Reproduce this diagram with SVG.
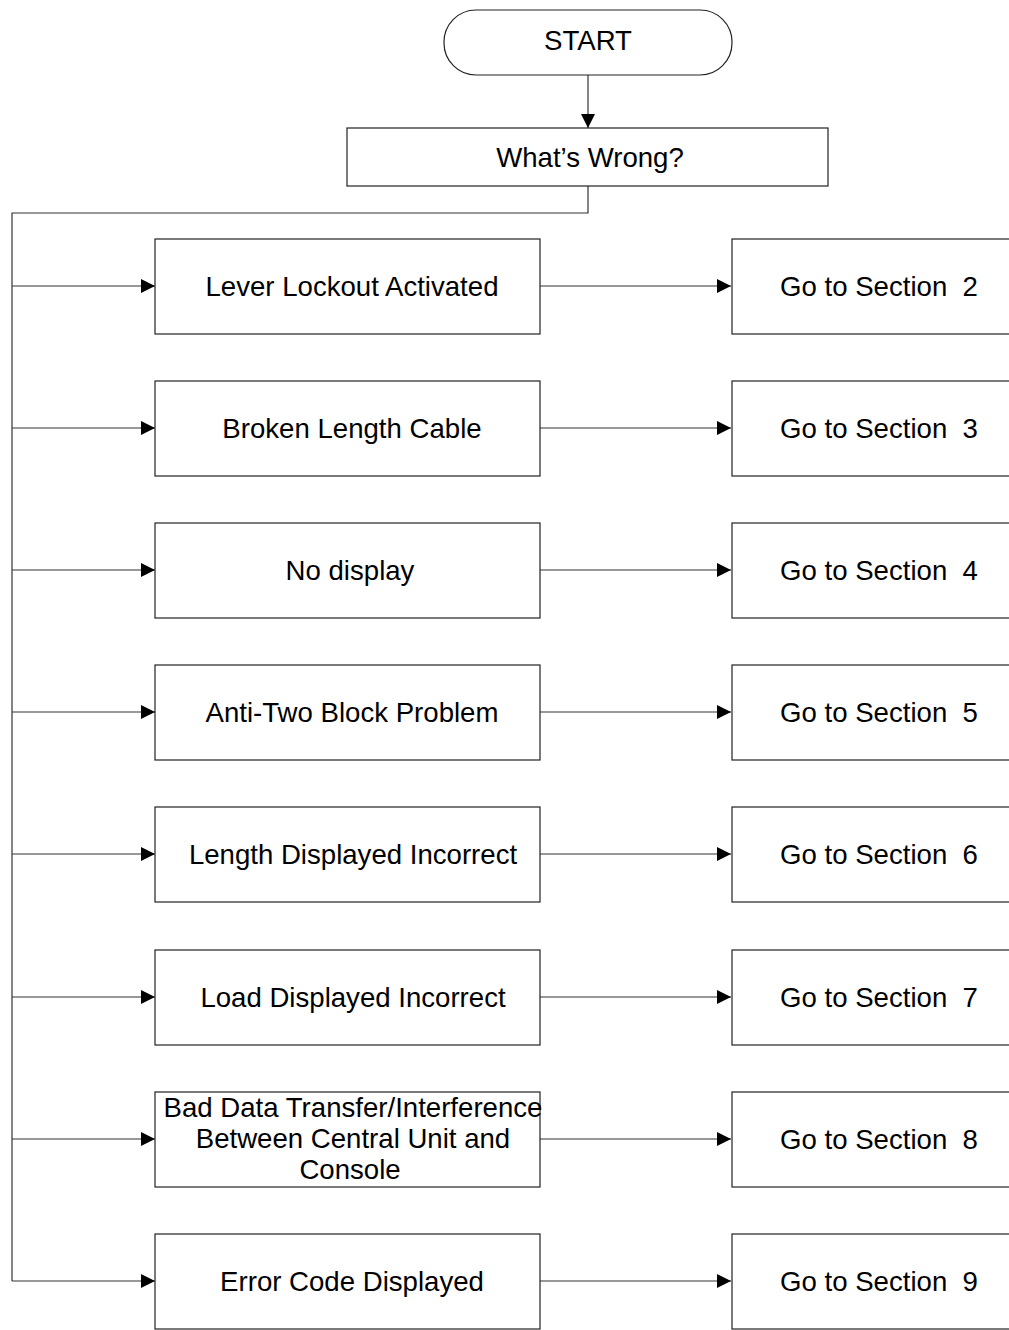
<svg xmlns="http://www.w3.org/2000/svg" width="1009" height="1330" viewBox="0 0 1009 1330">
<style>
.box{fill:#fff;stroke:#222;stroke-width:1.2}
.t{font-family:"Liberation Sans",Arial,sans-serif;font-size:27.6px;fill:#000;text-anchor:middle}
.c{fill:none;stroke:#333;stroke-width:1.2}
</style>
<defs>
<marker id="ah" markerWidth="14" markerHeight="14" refX="14" refY="7" orient="auto" markerUnits="userSpaceOnUse">
<path d="M0,0 L14,7 L0,14 Z" fill="#000"/>
</marker>
</defs>
<rect width="1009" height="1330" fill="#fff"/>
<g id="connectors">
<line class="c" x1="588" y1="75" x2="588" y2="128" marker-end="url(#ah)"/>
<polyline class="c" points="588,186 588,213 12,213 12,1281"/>
<line class="c" x1="12" y1="286" x2="155" y2="286" marker-end="url(#ah)"/>
<line class="c" x1="12" y1="428" x2="155" y2="428" marker-end="url(#ah)"/>
<line class="c" x1="12" y1="570" x2="155" y2="570" marker-end="url(#ah)"/>
<line class="c" x1="12" y1="712" x2="155" y2="712" marker-end="url(#ah)"/>
<line class="c" x1="12" y1="854" x2="155" y2="854" marker-end="url(#ah)"/>
<line class="c" x1="12" y1="997" x2="155" y2="997" marker-end="url(#ah)"/>
<line class="c" x1="12" y1="1139" x2="155" y2="1139" marker-end="url(#ah)"/>
<line class="c" x1="12" y1="1281" x2="155" y2="1281" marker-end="url(#ah)"/>
<line class="c" x1="540" y1="286" x2="731" y2="286" marker-end="url(#ah)"/>
<line class="c" x1="540" y1="428" x2="731" y2="428" marker-end="url(#ah)"/>
<line class="c" x1="540" y1="570" x2="731" y2="570" marker-end="url(#ah)"/>
<line class="c" x1="540" y1="712" x2="731" y2="712" marker-end="url(#ah)"/>
<line class="c" x1="540" y1="854" x2="731" y2="854" marker-end="url(#ah)"/>
<line class="c" x1="540" y1="997" x2="731" y2="997" marker-end="url(#ah)"/>
<line class="c" x1="540" y1="1139" x2="731" y2="1139" marker-end="url(#ah)"/>
<line class="c" x1="540" y1="1281" x2="731" y2="1281" marker-end="url(#ah)"/>
</g>
<g id="start"><rect class="box" x="444" y="10" width="288" height="65" rx="32" ry="32"/><text class="t" x="588" y="50">START</text></g>
<g id="whats-wrong"><rect class="box" x="347" y="128" width="481" height="58"/><text class="t" x="590" y="167">What’s Wrong?</text></g>

<g id="p1"><rect class="box" x="155" y="239" width="385" height="95"/><text class="t" x="352" y="296">Lever Lockout Activated</text></g>
<g id="p2"><rect class="box" x="155" y="381" width="385" height="95"/><text class="t" x="352" y="438">Broken Length Cable</text></g>
<g id="p3"><rect class="box" x="155" y="523" width="385" height="95"/><text class="t" x="350" y="580">No display</text></g>
<g id="p4"><rect class="box" x="155" y="665" width="385" height="95"/><text class="t" x="352" y="722">Anti-Two Block Problem</text></g>
<g id="p5"><rect class="box" x="155" y="807" width="385" height="95"/><text class="t" x="353" y="864">Length Displayed Incorrect</text></g>
<g id="p6"><rect class="box" x="155" y="950" width="385" height="95"/><text class="t" x="353" y="1007">Load Displayed Incorrect</text></g>
<g id="p7"><rect class="box" x="155" y="1092" width="385" height="95"/><text class="t" x="353" y="1117">Bad Data Transfer/Interference</text><text class="t" x="353" y="1148">Between Central Unit and</text><text class="t" x="350" y="1179">Console</text></g>
<g id="p8"><rect class="box" x="155" y="1234" width="385" height="95"/><text class="t" x="352" y="1291">Error Code Displayed</text></g>

<g id="s2"><rect class="box" x="732" y="239" width="385" height="95"/><text class="t" x="879" y="296" xml:space="preserve">Go to Section  2</text></g>
<g id="s3"><rect class="box" x="732" y="381" width="385" height="95"/><text class="t" x="879" y="438" xml:space="preserve">Go to Section  3</text></g>
<g id="s4"><rect class="box" x="732" y="523" width="385" height="95"/><text class="t" x="879" y="580" xml:space="preserve">Go to Section  4</text></g>
<g id="s5"><rect class="box" x="732" y="665" width="385" height="95"/><text class="t" x="879" y="722" xml:space="preserve">Go to Section  5</text></g>
<g id="s6"><rect class="box" x="732" y="807" width="385" height="95"/><text class="t" x="879" y="864" xml:space="preserve">Go to Section  6</text></g>
<g id="s7"><rect class="box" x="732" y="950" width="385" height="95"/><text class="t" x="879" y="1007" xml:space="preserve">Go to Section  7</text></g>
<g id="s8"><rect class="box" x="732" y="1092" width="385" height="95"/><text class="t" x="879" y="1149" xml:space="preserve">Go to Section  8</text></g>
<g id="s9"><rect class="box" x="732" y="1234" width="385" height="95"/><text class="t" x="879" y="1291" xml:space="preserve">Go to Section  9</text></g>
</svg>
